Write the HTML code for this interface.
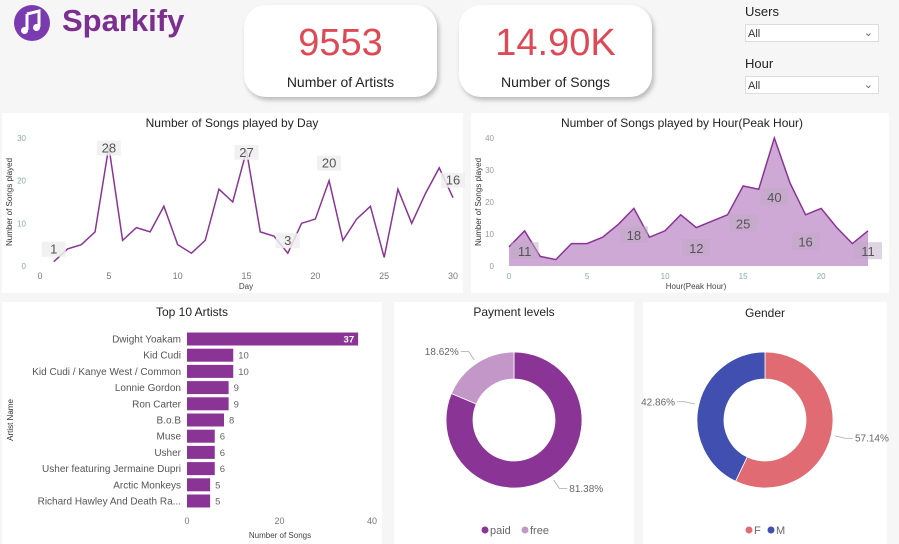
<!DOCTYPE html>
<html><head><meta charset="utf-8">
<style>
body{margin:0;width:899px;height:544px;background:#f6f6f6;font-family:"Liberation Sans",sans-serif;position:relative;overflow:hidden}
.p{position:absolute;background:#fff}
.card{position:absolute;background:#fff;border-radius:22px;box-shadow:2px 3px 5px rgba(0,0,0,.25);text-align:center}
.kv{font-size:38px;color:#dd4a56;margin-top:17px}
.kl{font-size:14px;color:#222;margin-top:9px}
.sl{position:absolute;font-size:13px;color:#222}
.dd{position:absolute;width:134px;height:18px;border:1px solid #ddd;background:#fff;font-size:11px;color:#333;line-height:18px;padding-left:2px;box-sizing:border-box}
svg text{font-family:"Liberation Sans",sans-serif}
</style></head><body>
<svg style="position:absolute;left:12px;top:3px" width="40" height="40"><circle cx="20" cy="20" r="18" fill="#7a3bb0"/><path d="M15 11 L27 8 L27 24" stroke="#fff" stroke-width="3" fill="none"/><path d="M15 11 L15 27" stroke="#fff" stroke-width="3"/><circle cx="12.5" cy="27.5" r="3.5" fill="#fff"/><circle cx="24.5" cy="24.5" r="3.5" fill="#fff"/></svg>
<div style="position:absolute;left:62px;top:3px;font-size:31px;font-weight:bold;color:#7c2f91">Sparkify</div>

<div class="card" style="left:244px;top:5px;width:193px;height:92px"><div class="kv">9553</div><div class="kl">Number of Artists</div></div>
<div class="card" style="left:459px;top:5px;width:193px;height:92px"><div class="kv">14.90K</div><div class="kl">Number of Songs</div></div>

<div class="sl" style="left:745px;top:4px">Users</div>
<div class="dd" style="left:745px;top:24px">All<span style="position:absolute;right:5px;top:-1px;color:#666">&#8964;</span></div>
<div class="sl" style="left:745px;top:56px">Hour</div>
<div class="dd" style="left:745px;top:76px">All<span style="position:absolute;right:5px;top:-1px;color:#666">&#8964;</span></div>

<div class="p" style="left:2px;top:113px;width:461px;height:180px"></div>
<div class="p" style="left:471px;top:113px;width:418px;height:180px"></div>
<div class="p" style="left:2px;top:302px;width:380px;height:242px"></div>
<div class="p" style="left:394px;top:302px;width:240px;height:242px"></div>
<div class="p" style="left:643px;top:302px;width:244px;height:242px"></div>

<svg id="s" width="899" height="544" style="position:absolute;left:0;top:0"></svg>
<script>
const days=[1,2,3,4,5,6,7,8,9,10,11,12,13,14,15,16,17,18,19,20,21,22,23,24,25,26,27,28,29,30];
const dayVals=[1,4,5,8,28,6,9,8,14,5,3,6,18,15,27,8,7,3,10,11,20,6,11,14,2,18,10,17,23,16];
const dayTicks=[0,5,10,15,20,25,30];
const dayYTicks=[0,10,20,30];
const dayLabeled=[1,5,15,18,21,30];
const hours=[0,1,2,3,4,5,6,7,8,9,10,11,12,13,14,15,16,17,18,19,20,21,22,23];
const hourVals=[6,11,3,2,7,7,9,13,18,9,11,16,12,14,16,25,24,40,26,16,18,12,7,11];
const hourTicks=[0,5,10,15,20];
const hourYTicks=[0,10,20,30,40];
const hourLabeled=[1,8,12,15,17,19,23];
const artists=["Dwight Yoakam","Kid Cudi","Kid Cudi / Kanye West / Common","Lonnie Gordon","Ron Carter","B.o.B","Muse","Usher","Usher featuring Jermaine Dupri","Arctic Monkeys","Richard Hawley And Death Ra..."];
const artistVals=[37,10,10,9,9,8,6,6,6,5,5];
const barTicks=[0,20,40];
const payLabels=["paid","free"];
const payVals=[81.38,18.62];
const genderLabels=["F","M"];
const genderVals=[57.14,42.86];

const S=document.getElementById('s');
function el(t,a,txt){const e=document.createElementNS('http://www.w3.org/2000/svg',t);for(const k in a)e.setAttribute(k,a[k]);if(txt!==undefined)e.textContent=txt;S.appendChild(e);return e;}
function tx(x,y,s,o){return el('text',Object.assign({x:x,y:y,'font-size':9,fill:'#777'},o||{}),s);}

// Day chart
const dX=v=>40+(v-0)*(453-40)/30, dY=v=>266-v*(266-138)/30;
let t=tx(232,127,'Number of Songs played by Day',{'font-size':12,fill:'#222','text-anchor':'middle'});

dayTicks.forEach(v=>{const e=tx(dX(v),279,v,{'text-anchor':'middle'});});
dayYTicks.forEach(v=>{const e=tx(26,dY(v)+3,v,{'text-anchor':'end','font-size':8,fill:'#8aa'});});
t=tx(246,289,'Day',{'font-size':8,fill:'#444','text-anchor':'middle'});
t=tx(0,0,'Number of Songs played',{'font-size':8,fill:'#333','text-anchor':'middle',transform:'translate(12,202) rotate(-90)'});
let p=el('polyline',{points:days.map((d,i)=>dX(d)+','+dY(dayVals[i])).join(' '),fill:'none',stroke:'#8a3496','stroke-width':1.5});

dayLabeled.forEach(d=>{const i=days.indexOf(d),v=dayVals[i];const x=dX(d),y=dY(v)-(v<5?9:(v>25?-5:14));
 const r=el('rect',{x:x-12,y:y-11,width:24,height:15,fill:'#eee',opacity:.85});
 const e=tx(x,y+1,v,{'font-size':13,fill:'#555','text-anchor':'middle'});});

// Hour chart
const hX=v=>509+v*(868-509)/23, hY=v=>266-v*(266-138)/40;
t=tx(682,127,'Number of Songs played by Hour(Peak Hour)',{'font-size':12,fill:'#222','text-anchor':'middle'});

hourTicks.forEach(v=>{const e=tx(hX(v),279,v,{'text-anchor':'middle','font-size':8,fill:'#8aa'});});
hourYTicks.forEach(v=>{const e=tx(494,hY(v)+3,v,{'text-anchor':'end','font-size':8,fill:'#999'});});
t=tx(696,289,'Hour(Peak Hour)',{'font-size':8,fill:'#444','text-anchor':'middle'});
t=tx(0,0,'Number of Songs played',{'font-size':8,fill:'#333','text-anchor':'middle',transform:'translate(481,202) rotate(-90)'});
const pts=hours.map((h,i)=>hX(h)+','+hY(hourVals[i])).join(' ');
p=el('polygon',{points:hX(0)+','+hY(0)+' '+pts+' '+hX(23)+','+hY(0),fill:'#cfa9d6'});
p=el('polyline',{points:pts,fill:'none',stroke:'#8a3496','stroke-width':1.5});
hourLabeled.forEach(h=>{const i=hours.indexOf(h),v=hourVals[i];const x=hX(h);let y;
 if(h===17)y=hY(20)-3;else if(h===15)y=hY(12)-2;else if(h===19)y=hY(7);else if(h===8)y=hY(9);else if(h===12)y=hY(5);else y=hY(4);
 const r=el('rect',{x:x-14,y:y-11,width:28,height:17,fill:'#c0aac6',opacity:.5});
 const e=tx(x,y+3,v,{'font-size':13,fill:'#555','text-anchor':'middle'});});

// Bar chart
const bX=v=>187+v*(372-187)/40, bY=i=>339+i*16.2;
t=tx(192,316,'Top 10 Artists',{'font-size':12,fill:'#222','text-anchor':'middle'});
artists.forEach((a,i)=>{const v=artistVals[i],y=bY(i);
 const r=el('rect',{x:bX(0),y:y-6.5,width:bX(v)-bX(0),height:13,fill:'#8a3496'});
 const l=tx(181,y+3.5,a,{'text-anchor':'end','font-size':10,fill:'#555'});
 const big=v>20;const vl=tx(big?bX(v)-4:bX(v)+5,y+3.5,v,{'font-size':9.5,fill:big?'#fff':'#666','text-anchor':big?'end':'start','font-weight':big?'bold':'normal'});
 });
barTicks.forEach(v=>{const e=tx(bX(v),524,v,{'text-anchor':'middle'});});
t=tx(280,538,'Number of Songs',{'font-size':8,fill:'#444','text-anchor':'middle'});
t=tx(0,0,'Artist Name',{'font-size':8,fill:'#333','text-anchor':'middle',transform:'translate(13,420) rotate(-90)'});

// Donuts
function donut(cx,cy,vals,cols,name){const R=68,r=41;let a0=0;const tot=vals.reduce((s,v)=>s+v,0);
 vals.forEach((v,i)=>{const a1=a0+v/tot*2*Math.PI;const P=(rad,a)=>[cx+rad*Math.sin(a),cy-rad*Math.cos(a)];const lg=(a1-a0)>Math.PI?1:0;
  const [x1,y1]=P(R,a0),[x2,y2]=P(R,a1),[x3,y3]=P(r,a1),[x4,y4]=P(r,a0);
  const e=el('path',{d:`M${x1},${y1}A${R},${R} 0 ${lg} 1 ${x2},${y2}L${x3},${y3}A${r},${r} 0 ${lg} 0 ${x4},${y4}Z`,fill:cols[i],stroke:'#fff','stroke-width':0.8});
  
  const am=(a0+a1)/2;const [lx,ly]=P(R+4,am);const [ex,ey]=P(R+14,am);const right=Math.sin(am)>0;
  const ln=el('polyline',{points:`${lx},${ly} ${ex},${ey} ${ex+(right?8:-8)},${ey}`,fill:'none',stroke:'#aaa','stroke-width':0.8});
  const t=tx(ex+(right?10:-10),ey+3.5,v.toFixed(2)+'%',{'font-size':10,fill:'#666','text-anchor':right?'start':'end'});
  a0=a1;});}
t=tx(514,316,'Payment levels',{'font-size':12,fill:'#222','text-anchor':'middle'});
donut(514,420,payVals,['#8a3496','#c497c9'],'payment');
t=tx(765,317,'Gender',{'font-size':12,fill:'#222','text-anchor':'middle'});
donut(765,420,genderVals,['#e06b72','#4150b0'],'gender');
function legend(x,labels,cols,name){let cx=x;labels.forEach((l,i)=>{const c=el('circle',{cx:cx,cy:530,r:3.5,fill:cols[i]});
 const t=tx(cx+5,534,l,{'font-size':11,fill:'#666'});cx+=l.length*6+16;});}
legend(485,payLabels,['#8a3496','#c497c9'],'payment');
legend(749,genderLabels,['#e06b72','#4150b0'],'gender');
</script>
</body></html>
